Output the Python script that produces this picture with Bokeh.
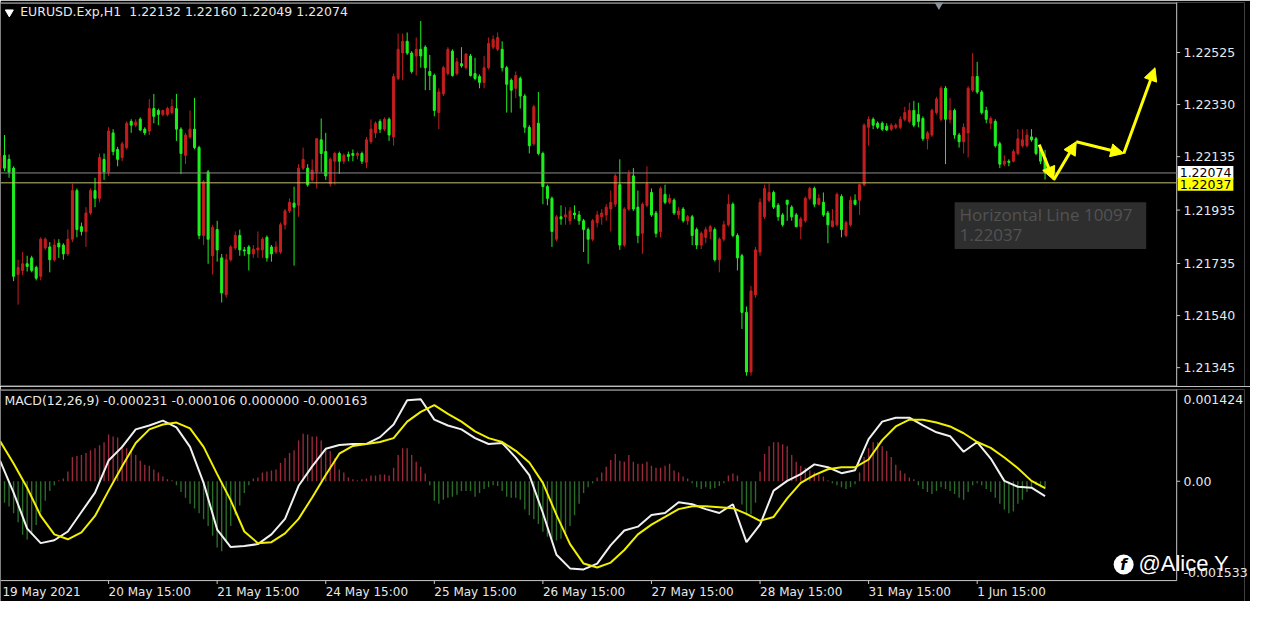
from bokeh.plotting import figure
from bokeh.layouts import column
from bokeh.models import (ColumnDataSource, Range1d, FixedTicker, NumeralTickFormatter,
                          CustomJSTickFormatter, Label, Arrow, NormalHead, BoxAnnotation)
from bokeh.embed import file_html
from bokeh.resources import INLINE

# ---------------- data ----------------
symbol_name = "EURUSD.Exp,H1"
symbol_ohlc = "1.22132 1.22160 1.22049 1.22074"
macd_title = "MACD(12,26,9) -0.000231 -0.000106 0.000000 -0.000163"
date_labels = ["19 May 2021", "20 May 15:00", "21 May 15:00", "24 May 15:00", "25 May 15:00",
               "26 May 15:00", "27 May 15:00", "28 May 15:00", "31 May 15:00", "1 Jun 15:00"]
date_bars = [0, 24, 48, 72, 96, 120, 144, 168, 192, 216]
price_ticks = [1.22525, 1.22330, 1.22135, 1.21935, 1.21735, 1.21540, 1.21345]
macd_ticks = [0.001424, 0.0, -0.001533]
hline_gray = 1.22074
hline_yellow = 1.22037
tooltip_lines = ["Horizontal Line 10097", "1.22037"]
forecast_bars = [229.7, 232.9, 237.9, 248.4, 255.3]
forecast_prices = [1.22180, 1.22048, 1.22191, 1.22147, 1.22468]
watermark = "@Alice Y"

opens = [
    1.22092, 1.22140, 1.22125, 1.22092, 1.21694, 1.21709, 1.21734, 1.21756, 1.21720, 1.21687,
    1.21793, 1.21797, 1.21749, 1.21811, 1.21804, 1.21771, 1.21826, 1.22008, 1.21873, 1.21855,
    1.21924, 1.22008, 1.21979, 1.22125, 1.22078, 1.22224, 1.22162, 1.22132, 1.22169, 1.22267,
    1.22253, 1.22275, 1.22238, 1.22231, 1.22315, 1.22308, 1.22293, 1.22293, 1.22300, 1.22315,
    1.22238, 1.22140, 1.22209, 1.22238, 1.22169, 1.21840, 1.22078, 1.21764, 1.21862, 1.21756,
    1.21618, 1.21749, 1.21793, 1.21840, 1.21786, 1.21797, 1.21771, 1.21786, 1.21786, 1.21833,
    1.21797, 1.21778, 1.21778, 1.21880, 1.21932, 1.21961, 1.21953, 1.22092, 1.22092, 1.22048,
    1.22078, 1.22198, 1.22154, 1.22034, 1.22118, 1.22147, 1.22118, 1.22143, 1.22147, 1.22140,
    1.22147, 1.22114, 1.22191, 1.22224, 1.22267, 1.22238, 1.22275, 1.22209, 1.22428, 1.22523,
    1.22567, 1.22523, 1.22512, 1.22537, 1.22545, 1.22454, 1.22439, 1.22300, 1.22370, 1.22446,
    1.22530, 1.22446, 1.22483, 1.22468, 1.22512, 1.22446, 1.22435, 1.22413, 1.22468, 1.22545,
    1.22537, 1.22537, 1.22468, 1.22421, 1.22391, 1.22428, 1.22362, 1.22245, 1.22183, 1.22260,
    1.22147, 1.22023, 1.21979, 1.21826, 1.21910, 1.21910, 1.21895, 1.21924, 1.21917, 1.21895,
    1.21862, 1.21826, 1.21888, 1.21910, 1.21917, 1.21939, 1.21957, 1.22030, 1.21804, 1.21939,
    1.22063, 1.21946, 1.21848, 1.21953, 1.22001, 1.21924, 1.21855, 1.21994, 1.21964, 1.21972,
    1.21917, 1.21939, 1.21895, 1.21910, 1.21862, 1.21804, 1.21833, 1.21855, 1.21862, 1.21749,
    1.21826, 1.21880, 1.21957, 1.21840, 1.21764, 1.21552, 1.21329, 1.21618, 1.21778, 1.21910,
    1.21972, 1.22001, 1.21953, 1.21917, 1.21972, 1.21946, 1.21917, 1.21873, 1.21895, 1.21979,
    1.22016, 1.21957, 1.21964, 1.21924, 1.21873, 1.21880, 1.21986, 1.21840, 1.21880, 1.21972,
    1.21972, 1.22030, 1.22245, 1.22275, 1.22260, 1.22260, 1.22249, 1.22238, 1.22245, 1.22245,
    1.22275, 1.22267, 1.22308, 1.22293, 1.22278, 1.22202, 1.22216, 1.22300, 1.22275, 1.22391,
    1.22275, 1.22308, 1.22216, 1.22191, 1.22224, 1.22384, 1.22435, 1.22377, 1.22308, 1.22260,
    1.22267, 1.22183, 1.22107, 1.22118, 1.22118, 1.22147, 1.22176, 1.22176, 1.22209, 1.22202,
    1.22162, 1.22132]

highs = [
    1.22172, 1.22216, 1.22143, 1.22099, 1.21749, 1.21778, 1.21764, 1.21764, 1.21727, 1.21833,
    1.21833, 1.21815, 1.21826, 1.21826, 1.21811, 1.21862, 1.22034, 1.22016, 1.21888, 1.21946,
    1.22016, 1.22056, 1.22147, 1.22147, 1.22245, 1.22238, 1.22172, 1.22191, 1.22267, 1.22275,
    1.22275, 1.22282, 1.22245, 1.22351, 1.22370, 1.22315, 1.22311, 1.22322, 1.22351, 1.22370,
    1.22245, 1.22224, 1.22308, 1.22355, 1.22176, 1.22048, 1.22085, 1.21880, 1.21895, 1.21771,
    1.21771, 1.21804, 1.21855, 1.21862, 1.21797, 1.21804, 1.21804, 1.21855, 1.21833, 1.21840,
    1.21804, 1.21818, 1.21888, 1.21939, 1.21979, 1.22023, 1.22107, 1.22169, 1.22107, 1.22125,
    1.22205, 1.22278, 1.22224, 1.22132, 1.22154, 1.22154, 1.22147, 1.22154, 1.22162, 1.22154,
    1.22154, 1.22209, 1.22275, 1.22267, 1.22275, 1.22282, 1.22282, 1.22446, 1.22596, 1.22596,
    1.22600, 1.22530, 1.22581, 1.22643, 1.22552, 1.22516, 1.22446, 1.22391, 1.22475, 1.22545,
    1.22537, 1.22505, 1.22545, 1.22523, 1.22519, 1.22505, 1.22443, 1.22512, 1.22581, 1.22589,
    1.22600, 1.22567, 1.22475, 1.22428, 1.22454, 1.22435, 1.22370, 1.22253, 1.22329, 1.22377,
    1.22154, 1.22030, 1.21986, 1.21917, 1.21953, 1.21946, 1.21946, 1.21953, 1.21932, 1.21902,
    1.21870, 1.21902, 1.21932, 1.21939, 1.21957, 1.22008, 1.22070, 1.22125, 1.21946, 1.22085,
    1.22092, 1.22008, 1.21964, 1.22099, 1.22016, 1.21932, 1.22023, 1.22030, 1.21994, 1.21979,
    1.21946, 1.21946, 1.21917, 1.21917, 1.21870, 1.21855, 1.21873, 1.21880, 1.21870, 1.21833,
    1.21895, 1.21994, 1.21964, 1.21848, 1.21771, 1.21574, 1.21651, 1.21797, 1.21979, 1.22030,
    1.22034, 1.22008, 1.21961, 1.21924, 1.21972, 1.21953, 1.21924, 1.21910, 1.21986, 1.22023,
    1.22023, 1.21994, 1.22001, 1.21932, 1.21939, 1.22001, 1.21994, 1.21895, 1.21986, 1.21994,
    1.22034, 1.22260, 1.22286, 1.22282, 1.22267, 1.22267, 1.22260, 1.22260, 1.22260, 1.22286,
    1.22322, 1.22337, 1.22344, 1.22337, 1.22286, 1.22231, 1.22315, 1.22359, 1.22399, 1.22399,
    1.22355, 1.22315, 1.22224, 1.22260, 1.22399, 1.22523, 1.22490, 1.22384, 1.22322, 1.22286,
    1.22275, 1.22191, 1.22140, 1.22125, 1.22162, 1.22238, 1.22238, 1.22238, 1.22238, 1.22209,
    1.22169, 1.22160]

lows = [
    1.22078, 1.22081, 1.22056, 1.21669, 1.21581, 1.21691, 1.21705, 1.21702, 1.21672, 1.21672,
    1.21786, 1.21702, 1.21742, 1.21756, 1.21749, 1.21764, 1.21815, 1.21833, 1.21840, 1.21797,
    1.21917, 1.21946, 1.21964, 1.22048, 1.22063, 1.22140, 1.22099, 1.22118, 1.22162, 1.22224,
    1.22245, 1.22231, 1.22216, 1.22216, 1.22260, 1.22253, 1.22286, 1.22286, 1.22293, 1.22194,
    1.22070, 1.22107, 1.22202, 1.22162, 1.21826, 1.21804, 1.21734, 1.21694, 1.21742, 1.21589,
    1.21607, 1.21742, 1.21786, 1.21764, 1.21764, 1.21709, 1.21756, 1.21756, 1.21756, 1.21742,
    1.21742, 1.21771, 1.21771, 1.21862, 1.21924, 1.21727, 1.21910, 1.22085, 1.22023, 1.22041,
    1.22016, 1.22078, 1.22048, 1.22023, 1.22030, 1.22070, 1.22107, 1.22118, 1.22118, 1.22125,
    1.22107, 1.22092, 1.22183, 1.22205, 1.22224, 1.22231, 1.22194, 1.22176, 1.22421, 1.22421,
    1.22516, 1.22446, 1.22439, 1.22468, 1.22384, 1.22384, 1.22286, 1.22238, 1.22362, 1.22439,
    1.22435, 1.22439, 1.22468, 1.22461, 1.22435, 1.22421, 1.22391, 1.22391, 1.22461, 1.22537,
    1.22530, 1.22454, 1.22300, 1.22300, 1.22355, 1.22315, 1.22224, 1.22147, 1.22176, 1.22140,
    1.21957, 1.21953, 1.21797, 1.21818, 1.21880, 1.21880, 1.21880, 1.21902, 1.21880, 1.21778,
    1.21734, 1.21818, 1.21870, 1.21880, 1.21895, 1.21855, 1.21946, 1.21786, 1.21797, 1.21932,
    1.21932, 1.21811, 1.21771, 1.21946, 1.21910, 1.21833, 1.21833, 1.21957, 1.21957, 1.21917,
    1.21902, 1.21888, 1.21880, 1.21804, 1.21789, 1.21789, 1.21811, 1.21826, 1.21742, 1.21702,
    1.21818, 1.21873, 1.21833, 1.21709, 1.21490, 1.21315, 1.21315, 1.21607, 1.21764, 1.21902,
    1.21964, 1.21939, 1.21895, 1.21873, 1.21895, 1.21895, 1.21870, 1.21826, 1.21888, 1.21972,
    1.21946, 1.21953, 1.21910, 1.21811, 1.21870, 1.21873, 1.21833, 1.21833, 1.21873, 1.21953,
    1.21917, 1.22023, 1.22176, 1.22238, 1.22238, 1.22231, 1.22231, 1.22231, 1.22238, 1.22238,
    1.22267, 1.22260, 1.22245, 1.22245, 1.22194, 1.22162, 1.22209, 1.22293, 1.22267, 1.22107,
    1.22260, 1.22202, 1.22169, 1.22147, 1.22132, 1.22377, 1.22370, 1.22293, 1.22260, 1.22238,
    1.22169, 1.22092, 1.22099, 1.22099, 1.22114, 1.22140, 1.22169, 1.22169, 1.22191, 1.22140,
    1.22107, 1.22049]

closes = [
    1.22136, 1.22092, 1.22078, 1.21687, 1.21720, 1.21734, 1.21724, 1.21709, 1.21680, 1.21826,
    1.21826, 1.21749, 1.21804, 1.21797, 1.21771, 1.21826, 1.22008, 1.21862, 1.21855, 1.21924,
    1.22008, 1.21979, 1.22132, 1.22078, 1.22231, 1.22154, 1.22125, 1.22183, 1.22260, 1.22253,
    1.22264, 1.22235, 1.22224, 1.22315, 1.22286, 1.22293, 1.22308, 1.22315, 1.22322, 1.22238,
    1.22147, 1.22216, 1.22238, 1.22169, 1.21840, 1.22041, 1.21826, 1.21870, 1.21786, 1.21625,
    1.21749, 1.21797, 1.21840, 1.21786, 1.21782, 1.21771, 1.21789, 1.21793, 1.21826, 1.21756,
    1.21771, 1.21797, 1.21880, 1.21932, 1.21964, 1.21946, 1.22092, 1.22125, 1.22030, 1.22085,
    1.22202, 1.22147, 1.22063, 1.22125, 1.22147, 1.22118, 1.22140, 1.22136, 1.22140, 1.22147,
    1.22118, 1.22198, 1.22238, 1.22260, 1.22238, 1.22275, 1.22216, 1.22435, 1.22537, 1.22567,
    1.22523, 1.22454, 1.22537, 1.22512, 1.22468, 1.22439, 1.22308, 1.22377, 1.22468, 1.22537,
    1.22439, 1.22490, 1.22475, 1.22519, 1.22439, 1.22428, 1.22413, 1.22468, 1.22559, 1.22574,
    1.22581, 1.22468, 1.22406, 1.22384, 1.22439, 1.22362, 1.22245, 1.22176, 1.22322, 1.22147,
    1.22023, 1.21979, 1.21855, 1.21910, 1.21902, 1.21917, 1.21932, 1.21917, 1.21895, 1.21862,
    1.21826, 1.21895, 1.21917, 1.21924, 1.21946, 1.21964, 1.22063, 1.21804, 1.21939, 1.22070,
    1.21939, 1.21840, 1.21957, 1.22034, 1.21917, 1.21848, 1.22016, 1.21964, 1.21979, 1.21924,
    1.21932, 1.21895, 1.21910, 1.21840, 1.21804, 1.21848, 1.21862, 1.21873, 1.21749, 1.21826,
    1.21880, 1.21957, 1.21840, 1.21756, 1.21552, 1.21329, 1.21632, 1.21786, 1.21964, 1.22016,
    1.22001, 1.21946, 1.21910, 1.21880, 1.21957, 1.21910, 1.21873, 1.21902, 1.21979, 1.22016,
    1.21957, 1.21979, 1.21917, 1.21880, 1.21895, 1.21994, 1.21862, 1.21888, 1.21972, 1.21957,
    1.22030, 1.22253, 1.22275, 1.22253, 1.22245, 1.22238, 1.22235, 1.22253, 1.22253, 1.22275,
    1.22300, 1.22308, 1.22253, 1.22267, 1.22202, 1.22224, 1.22308, 1.22351, 1.22391, 1.22275,
    1.22308, 1.22216, 1.22191, 1.22245, 1.22391, 1.22435, 1.22377, 1.22300, 1.22275, 1.22278,
    1.22176, 1.22107, 1.22118, 1.22114, 1.22154, 1.22202, 1.22198, 1.22216, 1.22198, 1.22147,
    1.22118, 1.22074]

macd_hist = [
    -0.000302, -0.000332, -0.000392, -0.000498, -0.000634, -0.000830, -0.000905, -0.000830, -0.000679, -0.000483,
    -0.000302, -0.000151, -0.000060, 0.000015, 0.000045, 0.000151, 0.000377, 0.000392, 0.000407, 0.000438,
    0.000483, 0.000513, 0.000558, 0.000604, 0.000724, 0.000694, 0.000679, 0.000558, 0.000513, 0.000468,
    0.000407, 0.000317, 0.000257, 0.000241, 0.000181, 0.000136, 0.000075, 0.000030, 0.000015, -0.000060,
    -0.000166, -0.000257, -0.000347, -0.000423, -0.000498, -0.000589, -0.000694, -0.000845, -0.001026, -0.001086,
    -0.000936, -0.000694, -0.000528, -0.000377, -0.000181, -0.000060, 0.000045, 0.000060, 0.000136, 0.000151,
    0.000166, 0.000181, 0.000287, 0.000362, 0.000438, 0.000483, 0.000634, 0.000739, 0.000724, 0.000694,
    0.000694, 0.000634, 0.000513, 0.000468, 0.000362, 0.000181, 0.000136, 0.000060, 0.000030, 0.000015,
    0.000030, 0.000045, 0.000091, 0.000091, 0.000106, 0.000106, 0.000091, 0.000211, 0.000407, 0.000513,
    0.000513, 0.000407, 0.000302, 0.000226, 0.000121, -0.000060, -0.000302, -0.000347, -0.000287, -0.000257,
    -0.000241, -0.000211, -0.000151, -0.000151, -0.000151, -0.000241, -0.000181, -0.000121, -0.000091, -0.000060,
    -0.000075, -0.000151, -0.000241, -0.000257, -0.000257, -0.000287, -0.000438, -0.000528, -0.000589, -0.000664,
    -0.000785, -0.000860, -0.000890, -0.000920, -0.000890, -0.000815, -0.000694, -0.000528, -0.000347, -0.000181,
    -0.000091, -0.000030, 0.000060, 0.000136, 0.000226, 0.000332, 0.000423, 0.000317, 0.000302, 0.000407,
    0.000302, 0.000272, 0.000272, 0.000302, 0.000241, 0.000211, 0.000211, 0.000241, 0.000272, 0.000166,
    0.000136, 0.000075, 0.000045, -0.000030, -0.000091, -0.000121, -0.000091, -0.000121, -0.000106, -0.000075,
    -0.000030, 0.000091, 0.000121, 0.000091, -0.000362, -0.000528, -0.000513, -0.000332, 0.000151, 0.000423,
    0.000543, 0.000604, 0.000604, 0.000573, 0.000543, 0.000407, 0.000302, 0.000241, 0.000211, 0.000166,
    0.000136, 0.000106, 0.000075, 0.000015, -0.000030, -0.000060, -0.000091, -0.000121, -0.000091, -0.000045,
    0.000136, 0.000377, 0.000513, 0.000604, 0.000604, 0.000543, 0.000468, 0.000377, 0.000257, 0.000166,
    0.000121, 0.000060, 0.000030, -0.000060, -0.000121, -0.000166, -0.000196, -0.000151, -0.000091, -0.000121,
    -0.000151, -0.000196, -0.000257, -0.000287, -0.000166, -0.000060, -0.000030, -0.000060, -0.000121, -0.000166,
    -0.000257, -0.000347, -0.000438, -0.000498, -0.000468, -0.000347, -0.000287, -0.000166, -0.000091, -0.000060,
    -0.000091, -0.000121]

macd_bars = list(range(0, 229, 3)) + [231]
macd_main = [
    0.000322, -0.000175, -0.000734, -0.000960, -0.000915, -0.000779, -0.000477, -0.000175, 0.000322, 0.000534,
    0.000805, 0.000866, 0.000941, 0.000836, 0.000534, -0.000025, -0.000749, -0.001021, -0.001005, -0.000975,
    -0.000824, -0.000583, -0.000070, 0.000232, 0.000504, 0.000564, 0.000579, 0.000579, 0.000685, 0.000881,
    0.001258, 0.001273, 0.000956, 0.000866, 0.000805, 0.000670, 0.000579, 0.000594, 0.000368, 0.000096,
    -0.000492, -0.001141, -0.001352, -0.001368, -0.001277, -0.000990, -0.000764, -0.000704, -0.000522, -0.000492,
    -0.000326, -0.000356, -0.000432, -0.000492, -0.000356, -0.000945, -0.000673, -0.000145, 0.000006, 0.000111,
    0.000262, 0.000217, 0.000126, 0.000172, 0.000654, 0.000926, 0.000986, 0.000986, 0.000866, 0.000760,
    0.000700, 0.000458, 0.000609, 0.000353, 0.000006, -0.000085, -0.000100, -0.000231]
macd_signal = [
    0.000624, 0.000277, -0.000100, -0.000538, -0.000824, -0.000900, -0.000794, -0.000538, -0.000145, 0.000232,
    0.000594, 0.000805, 0.000881, 0.000911, 0.000820, 0.000534, 0.000111, -0.000296, -0.000779, -0.000960,
    -0.000945, -0.000809, -0.000583, -0.000251, 0.000096, 0.000428, 0.000549, 0.000579, 0.000609, 0.000670,
    0.000926, 0.001077, 0.001183, 0.001047, 0.000926, 0.000775, 0.000670, 0.000609, 0.000473, 0.000292,
    -0.000025, -0.000522, -0.000975, -0.001277, -0.001337, -0.001262, -0.001066, -0.000824, -0.000673, -0.000553,
    -0.000432, -0.000387, -0.000387, -0.000402, -0.000417, -0.000507, -0.000613, -0.000553, -0.000266, -0.000025,
    0.000096, 0.000187, 0.000217, 0.000217, 0.000338, 0.000639, 0.000851, 0.000956, 0.000956, 0.000911,
    0.000851, 0.000745, 0.000609, 0.000519, 0.000368, 0.000202, 0.000006, -0.000106]

# ---------------- styling / layout ----------------
BULL = "#c41e1e"     # rising candle (red)
BEAR = "#1ef01e"     # falling candle (green)
HIST_UP = "#9a2a3a"
HIST_DN = "#2a6e2a"
TXT = "#e8e8e8"
FRAME = "#c8c8c8"
YEL = "#ffff00"
FONT = "DejaVu Sans"
W = 1250
SX = W / 1266.0          # horizontal scale of this page against the reference picture

# mapping between positions measured on the reference picture and data units
def ref_x_to_bar(x):
    return 24 + (x - 110) / 4.604

def ref_y_to_price(y):
    return 1.227195 - 0.00003649 * y

def ref_y_to_macd(y):
    return 0.007445 - 0.00001509 * y

n = len(closes)
bars = list(range(n))
xr = Range1d(ref_x_to_bar(0), ref_x_to_bar(1266))
x_left = ref_x_to_bar(0)
x_axis = ref_x_to_bar(1197)
label_standoff = -int(round((1266 - 1204) * SX))

def style_right_axis(ax):
    ax.major_label_text_color = TXT
    ax.major_label_text_font = FONT
    ax.major_label_text_font_size = "12.5px"
    ax.axis_line_color = None
    ax.major_tick_line_color = None
    ax.minor_tick_line_color = None
    ax.major_tick_in = 0
    ax.major_tick_out = 0
    ax.major_label_standoff = label_standoff

# ---------------- price pane ----------------
p1 = figure(width=W, height=386, x_range=xr,
            y_range=Range1d(ref_y_to_price(396), ref_y_to_price(2)),
            y_axis_location="right", x_axis_location=None,
            output_backend="svg", toolbar_location=None,
            min_border_left=0, min_border_right=0, min_border_top=2, min_border_bottom=0,
            background_fill_color="black", border_fill_color="black",
            outline_line_color=None)
p1.grid.visible = False
ya = p1.yaxis[0]
ya.ticker = FixedTicker(ticks=price_ticks)
ya.formatter = NumeralTickFormatter(format="0.00000")
style_right_axis(ya)

# pane frame, scale line and tick marks
y_top, y_bot = ref_y_to_price(2.6), ref_y_to_price(395.6)
p1.segment(x0=[x_left, x_left, x_axis], y0=[y_top, y_bot, ref_y_to_price(0)],
           x1=[x_axis, x_axis, x_axis], y1=[y_top, y_bot, ref_y_to_price(400)],
           line_color=FRAME, line_width=1)
p1.segment(x0=[x_axis] * len(price_ticks), y0=price_ticks,
           x1=[ref_x_to_bar(1200.5)] * len(price_ticks), y1=price_ticks,
           line_color=FRAME, line_width=1)

colors = [BULL if c > o else BEAR for o, c in zip(opens, closes)]
src = ColumnDataSource(dict(
    x=bars, h=highs, l=lows,
    top=[max(o, c) for o, c in zip(opens, closes)],
    bottom=[min(o, c) for o, c in zip(opens, closes)],
    color=colors))
p1.segment(x0="x", y0="h", x1="x", y1="l", line_color="color", line_width=1, source=src)
p1.vbar(x="x", width=0.45, top="top", bottom="bottom", fill_color="color",
        line_color="color", line_width=1, source=src)

# horizontal lines (stop at the price scale)
p1.segment(x0=[x_left, x_left], y0=[hline_gray, hline_yellow],
           x1=[x_axis, x_axis], y1=[hline_gray, hline_yellow],
           line_color=["#8c8c8c", "#c3c36e"], line_width=1)

# chart shift marker
p1.scatter(x=[ref_x_to_bar(955)], y=[ref_y_to_price(2)], marker="inverted_triangle",
           size=13, fill_color="#8a949e", line_color=None)

# forecast arrows
for k in range(len(forecast_bars) - 1):
    p1.add_layout(Arrow(x_start=forecast_bars[k], y_start=forecast_prices[k],
                        x_end=forecast_bars[k + 1], y_end=forecast_prices[k + 1],
                        line_color=YEL, line_width=3,
                        end=NormalHead(size=13, fill_color=YEL, line_color=YEL)))

# object tooltip
p1.add_layout(BoxAnnotation(left=ref_x_to_bar(971), right=ref_x_to_bar(1166),
                            top=ref_y_to_price(207), bottom=ref_y_to_price(255),
                            fill_color="#2e2e2e", fill_alpha=1, line_color=None))
for t, yy in zip(tooltip_lines, [220, 241]):
    p1.add_layout(Label(x=ref_x_to_bar(976), y=ref_y_to_price(yy), text=t,
                        text_font="Open Sans", text_font_size="17px", text_color="#525252",
                        text_baseline="middle", text_align="left"))

# title
p1.scatter(x=[ref_x_to_bar(9)], y=[ref_y_to_price(12)], marker="inverted_triangle",
           size=8, fill_color="white", line_color="white")
p1.add_layout(Label(x=ref_x_to_bar(20), y=ref_y_to_price(11), text=symbol_name,
                    text_font=FONT, text_font_size="12.5px", text_color=TXT,
                    text_baseline="middle", text_align="left"))
p1.add_layout(Label(x=ref_x_to_bar(131), y=ref_y_to_price(11), text=symbol_ohlc,
                    text_font=FONT, text_font_size="12.5px", text_color=TXT,
                    text_baseline="middle", text_align="left"))

# price markers on the right scale
p1.add_layout(Label(x=ref_x_to_bar(1198), y=ref_y_to_price(176.5), text=f"{hline_gray:.5f}",
                    text_font=FONT, text_font_size="12.5px", text_color="black",
                    background_fill_color="white", padding=2,
                    text_baseline="middle", text_align="left"))
p1.add_layout(Label(x=ref_x_to_bar(1198), y=ref_y_to_price(188.5), text=f"{hline_yellow:.5f}",
                    text_font=FONT, text_font_size="12.5px", text_color="black",
                    background_fill_color=YEL, padding=2,
                    text_baseline="middle", text_align="left"))

# ---------------- MACD pane ----------------
p2 = figure(width=W, height=215, x_range=xr,
            y_range=Range1d(ref_y_to_macd(617), ref_y_to_macd(399)),
            y_axis_location="right", x_axis_location=None,
            output_backend="svg", toolbar_location=None,
            min_border_left=0, min_border_right=0, min_border_top=3, min_border_bottom=0,
            background_fill_color="black", border_fill_color="black",
            outline_line_color=None)
p2.grid.visible = False
y2 = p2.yaxis[0]
macd_tick_pos = [ref_y_to_macd(409), macd_ticks[1], ref_y_to_macd(587)]
macd_tick_text = [f"{macd_ticks[0]:.6f}", f"{macd_ticks[1]:.2f}", f"{macd_ticks[2]:.6f}"]
y2.ticker = FixedTicker(ticks=macd_tick_pos)
y2.formatter = CustomJSTickFormatter(args=dict(vals=macd_tick_pos, labs=macd_tick_text), code="""
let k = 0, d = Infinity;
for (let j = 0; j < vals.length; j++) {
  const e = Math.abs(tick - vals[j]);
  if (e < d) { d = e; k = j; }
}
return labs[k];
""")
style_right_axis(y2)

m_top, m_bot = ref_y_to_macd(399.6), ref_y_to_macd(595.5)
p2.segment(x0=[x_left, x_left, x_axis], y0=[m_top, m_bot, ref_y_to_macd(398)],
           x1=[x_axis, x_axis, x_axis], y1=[m_top, m_bot, m_bot],
           line_color=FRAME, line_width=1)
p2.segment(x0=[x_axis], y0=[0.0], x1=[ref_x_to_bar(1200.5)], y1=[0.0],
           line_color=FRAME, line_width=1)
p2.segment(x0=date_bars[1:], y0=[m_bot] * (len(date_bars) - 1),
           x1=date_bars[1:], y1=[ref_y_to_macd(599)] * (len(date_bars) - 1),
           line_color=FRAME, line_width=1)

hcolors = [HIST_UP if v >= 0 else HIST_DN for v in macd_hist]
p2.vbar(x=bars, width=0.3, top=macd_hist, bottom=0, fill_color=hcolors, line_color=None)
p2.line(macd_bars, macd_main, line_color="#f0f0f0", line_width=2)
p2.line(macd_bars, macd_signal, line_color="#f0f000", line_width=2)

p2.add_layout(Label(x=ref_x_to_bar(4), y=ref_y_to_macd(410), text=macd_title,
                    text_font=FONT, text_font_size="12.5px", text_color=TXT,
                    text_baseline="middle", text_align="left"))

for lab, b in zip(date_labels, date_bars):
    xpos = max(b, ref_x_to_bar(2))
    p2.add_layout(Label(x=xpos, y=ref_y_to_macd(607), text=lab,
                        text_font=FONT, text_font_size="12px", text_color=TXT,
                        text_baseline="middle", text_align="left"))

# watermark
p2.scatter(x=[ref_x_to_bar(1143)], y=[ref_y_to_macd(579)], marker="circle", size=20,
           fill_color="white", line_color=None)
p2.add_layout(Label(x=ref_x_to_bar(1143), y=ref_y_to_macd(579), text="f",
                    text_font="DejaVu Sans", text_font_style="bold italic", text_font_size="15px",
                    text_color="black", text_baseline="middle", text_align="center"))
p2.add_layout(Label(x=ref_x_to_bar(1158), y=ref_y_to_macd(578), text=watermark,
                    text_font="Liberation Sans", text_font_size="22px", text_color="white",
                    text_baseline="middle", text_align="left"))

layout = column(p1, p2, spacing=0)
open("out.html", "w").write(file_html(layout, INLINE))
